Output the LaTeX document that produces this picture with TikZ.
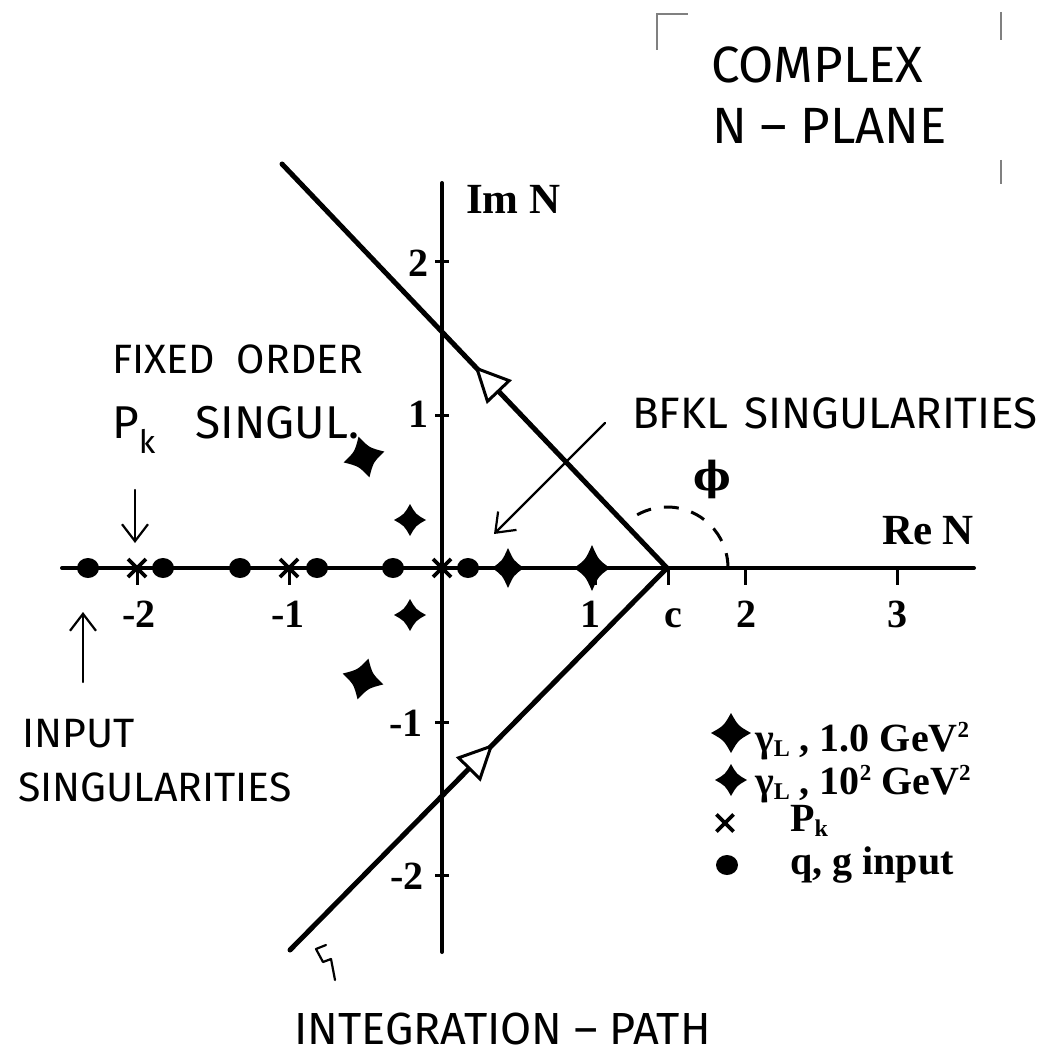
\documentclass[tikz,border=0pt]{standalone}
\usepackage{fontspec}
\setmainfont{Liberation Serif}
\newfontfamily\hand{Fira Sans}
\newfontfamily\phifont{DejaVu Serif}
\usetikzlibrary{arrows.meta,decorations.markings}
\newcommand\lsub[1]{\raisebox{-0.14em}{\fontsize{24}{24}\selectfont #1}}
\newcommand\hsup[1]{\raisebox{0.34em}{\fontsize{23}{23}\selectfont #1}}
\tikzset{
  axisline/.style={line width=4pt, line cap=round},
  pathline/.style={line width=5pt, line cap=round},
  tickline/.style={line width=3pt},
  lbl/.style={font=\bfseries\fontsize{40}{40}\selectfont, inner sep=0pt},
  axlbl/.style={font=\bfseries\fontsize{43}{43}\selectfont, inner sep=0pt},
  philbl/.style={font=\phifont\bfseries\fontsize{40}{40}\selectfont, inner sep=0pt},
  leg/.style={font=\bfseries\fontsize{40}{40}\selectfont, inner sep=0pt, anchor=base west},
  handtxt/.style={inner sep=0pt, anchor=west},
  handarrow/.style={line width=2.2pt, line cap=round, -{Straight Barb[length=17pt,width=26pt]}},
  dotmark/.style={ellipse, fill=black, inner sep=0pt, minimum width=22pt, minimum height=20pt},
  cdiam/.pic={\fill (0,1) .. controls (0.36,0.36) .. (1,0) .. controls (0.36,-0.36) .. (0,-1) .. controls (-0.36,-0.36) .. (-1,0) .. controls (-0.36,0.36) .. (0,1) -- cycle;},
  xmark/.pic={\draw[line width=3.8pt] (-9,-9) -- (9,9) (-9,9) -- (9,-9);},
  openarrow/.style={postaction={decorate, decoration={markings,
     mark=at position #1 with {\arrow{Triangle[fill=white, length=36pt, width=34pt, line width=3pt]}}}}}
}
\usetikzlibrary{shapes.geometric}
\begin{document}
\begin{tikzpicture}[x=1pt,y=-1pt]
\useasboundingbox[fill=white] (0,0) rectangle (1051,1056);

% axes
\coordinate (O) at (442,568);
\coordinate (xL) at (62,568);
\coordinate (xR) at (974,568);
\coordinate (yT) at (442,183);
\coordinate (yB) at (442,952);
\draw[axisline] (xL) -- (xR);
\draw[axisline] (yB) -- (yT);

% ticks on imaginary axis
\foreach \yy in {262,415,722,875} \draw[tickline] (435,\yy) -- (449,\yy);
% ticks on real axis
\foreach \xx in {137,289,595,668,745,897} \draw[tickline] (\xx,568) -- (\xx,585);

% tick labels
\node[lbl, anchor=base] (lm2) at (139,627) {-2};
\node[lbl, anchor=base] (lm1) at (288,627) {-1};
\node[lbl, anchor=base] (l1) at (590,627) {1};
\node[lbl, anchor=base] (lc) at (673,627) {c};
\node[lbl, anchor=base] (l2) at (746,627) {2};
\node[lbl, anchor=base] (l3) at (897,627) {3};
\node[lbl, anchor=east] (i2) at (429,263) {2};
\node[lbl, anchor=east] (i1) at (429,414) {1};
\node[lbl, anchor=east] (im1) at (423,723) {-1};
\node[lbl, anchor=east] (im2) at (424,876) {-2};
\node[axlbl, anchor=west] (imN) at (466,199) {Im N};
\node[axlbl] (reN) at (928,531) {Re N};

% integration path
\coordinate (c) at (667,568);
\coordinate (pT) at (282,164);
\coordinate (pB) at (290,950);
\draw[pathline, openarrow=0.54] (pB) -- (c);
\draw[pathline, openarrow=0.50] (c) -- (pT);

% angle phi
\draw[line width=3pt, dash pattern=on 15pt off 13pt] (728,568) arc[start angle=0, end angle=-132, radius=61];
\node[philbl] (phi) at (712,479) {ϕ};

% input singularities (dots)
\foreach \xx [count=\i] in {88,163,240,317,393,468} \node[dotmark] (d\i) at (\xx,568) {};
% Pk crosses
\foreach \xx in {137,289,442} \path (\xx,568) pic {xmark};

% gamma_L diamonds
\path (364,457) pic[scale=21, rotate=15] {cdiam};
\path (363,679) pic[scale=21, rotate=-15] {cdiam};
\path (592,568) pic[xscale=18, yscale=23] {cdiam};
\path (410,520) pic[scale=16] {cdiam};
\path (410,615) pic[scale=16] {cdiam};
\path (508,568) pic[xscale=16, yscale=20] {cdiam};

% legend
\path (731,733) pic[scale=20] {cdiam};
\path (731,780) pic[scale=16] {cdiam};
\path (725,823) pic[scale=0.95] {xmark};
\node[dotmark] (legdot) at (727,865) {};
\node[leg] (leg1) at (755,751) {γ\lsub{L} , 1.0 GeV\hsup{2}};
\node[leg] (leg2) at (755,794) {γ\lsub{L} , 10\hsup{2} GeV\hsup{2}};
\node[leg] (leg3) at (790,831) {P\lsub{k}};
\node[leg] (leg4) at (790,874) {q, g input};

% handwritten annotations
\node[handtxt, font=\hand\fontsize{51}{51}\selectfont] (t1) at (711,65) {COMPLEX};
\node[handtxt, font=\hand\fontsize{51}{51}\selectfont] (t2) at (712,126) {N – PLANE};
\node[handtxt, font=\hand\fontsize{41}{41}\selectfont] (fo) at (112,359) {FIXED\hspace{22pt}ORDER};
\node[handtxt, font=\hand\fontsize{46}{46}\selectfont] (pk) at (112,430) {P\textsubscript{k}\hspace{40pt}SINGUL.};
\node[handtxt, font=\hand\fontsize{44}{44}\selectfont] (bf) at (632,413) {BFKL\hspace{16pt}SINGULARITIES};
\node[handtxt, font=\hand\fontsize{41}{41}\selectfont] (in1) at (22,734) {INPUT};
\node[handtxt, font=\hand\fontsize{41}{41}\selectfont] (in2) at (18,787) {SINGULARITIES};
\node[handtxt, font=\hand\fontsize{45}{45}\selectfont] (ip) at (294,1029) {INTEGRATION – PATH};

% annotation arrows
\coordinate (pkA) at (135,490);
\coordinate (pkB) at (135,543);
\draw[handarrow] (pkA) -- (pkB);
\coordinate (inA) at (83,682);
\coordinate (inB) at (83,612);
\draw[handarrow] (inA) -- (inB);
\coordinate (bfA) at (605,423);
\coordinate (bfB) at (494,534);
\draw[handarrow] (bfA) -- (bfB);
\coordinate (hkA) at (335,980);
\coordinate (hkB) at (316,949);
\draw[line width=2.2pt, line cap=round, line join=round] (hkA) -- (331,959) -- (323,962) -- (hkB) -- (326,945);

% scan corner marks of the pasted title label
\draw[line width=1.5pt, gray] (657,50) -- (657,14) -- (688,14);
\draw[line width=1.5pt, gray] (1001,12) -- (1001,40);
\draw[line width=1.5pt, gray] (1001,160) -- (1001,184);
\end{tikzpicture}
\end{document}
